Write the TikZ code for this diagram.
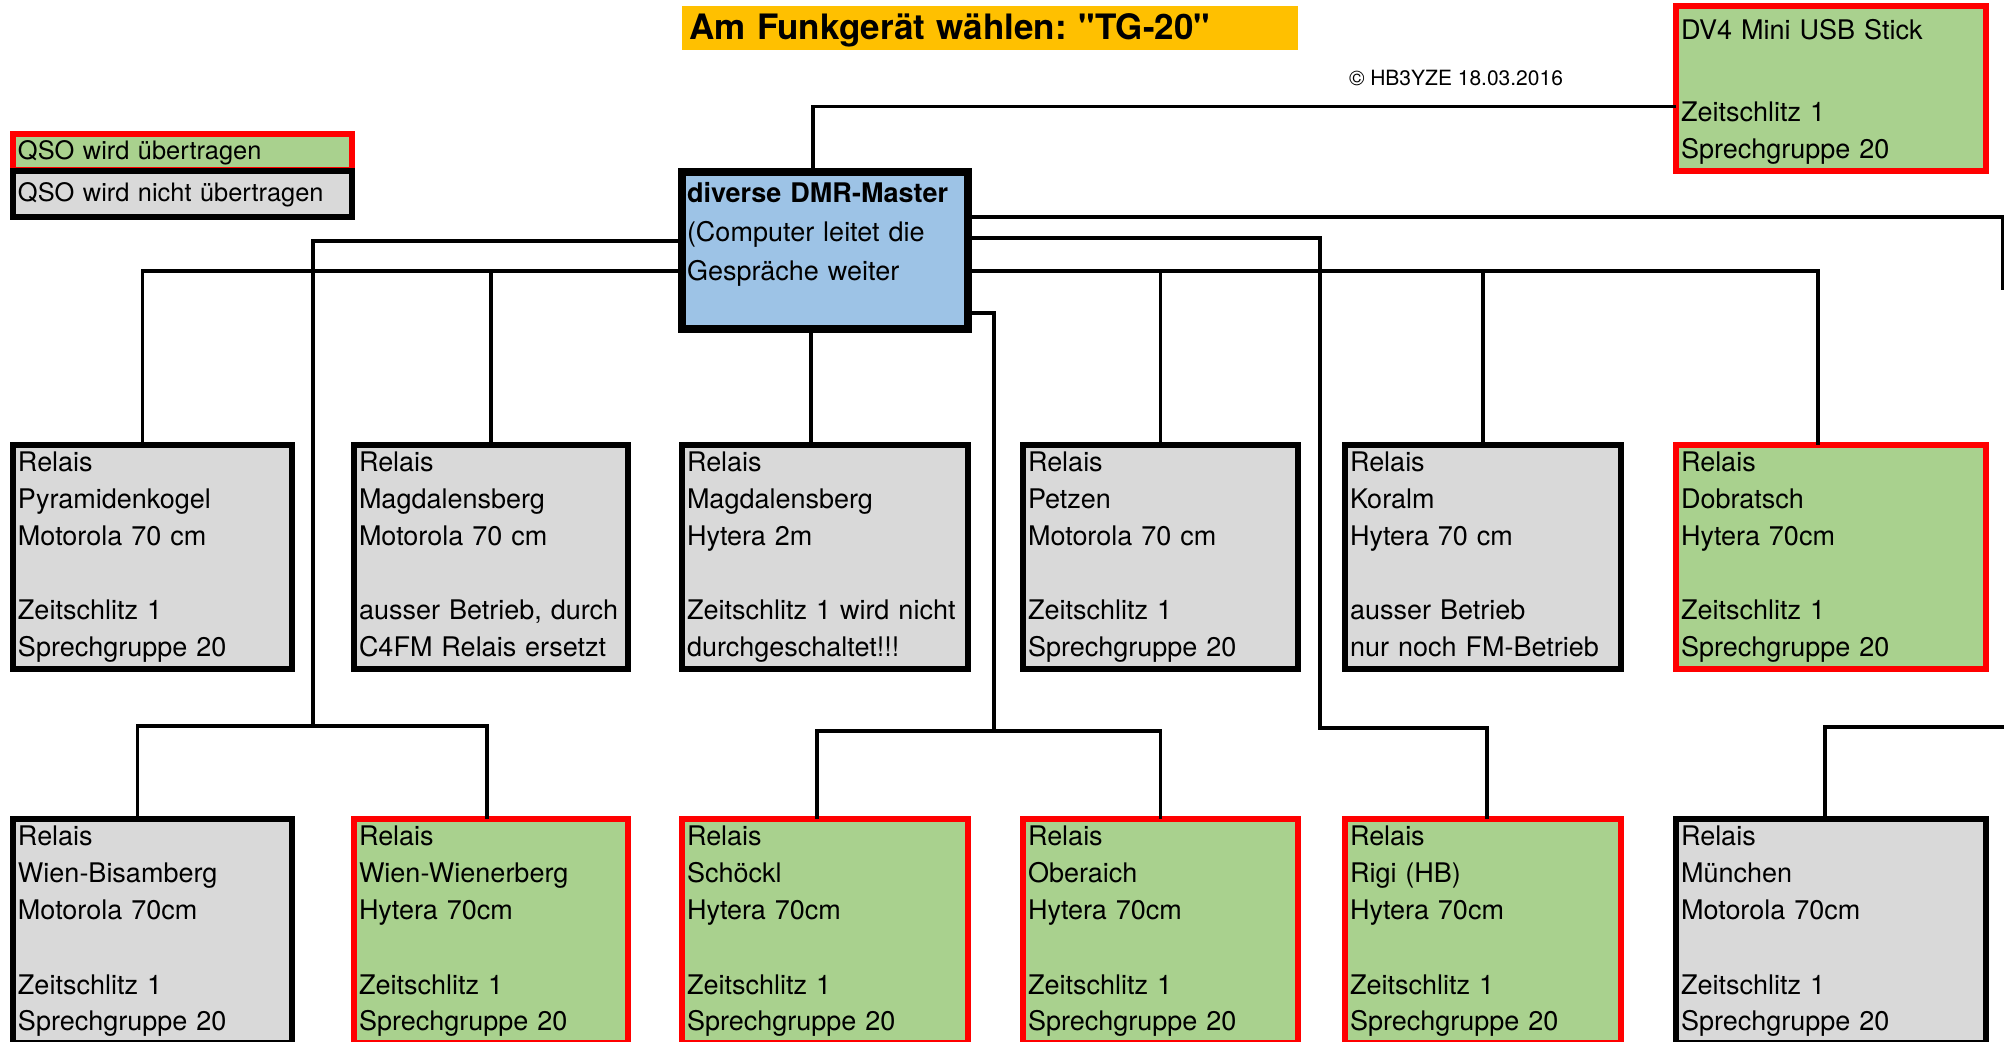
\documentclass[tikz,border=0pt]{standalone}
\usepackage{fontspec}
\setmainfont{TeX Gyre Heros}
\usepackage{tikz}
\frenchspacing
\definecolor{QSOGreen}{HTML}{A9D18E}
\definecolor{QSOGray}{HTML}{D9D9D9}
\definecolor{MasterBlue}{HTML}{9DC3E6}
\definecolor{TitleOrange}{HTML}{FFC000}

\begin{document}
\begin{tikzpicture}[x=0.5pt, y=-0.5pt,
    every node/.style={anchor=north west, outer sep=0pt, align=left,
                       font=\fontsize{13.5}{18.5}\selectfont},
    relais/.style={draw, line width=3pt, inner xsep=2.5pt, inner ysep=0pt,
                   text height=13.5pt, text depth=98.5pt},
    aktiv/.style={relais, draw=red, fill=QSOGreen},
    inaktiv/.style={relais, draw=black, fill=QSOGray},
    verbindung/.style={line width=1.8pt}]
  \useasboundingbox (0,0) rectangle (2004,1042);

  % Titel, Legende, Copyright
  \node[fill=TitleOrange, inner xsep=3.5pt, inner ysep=0pt, text width=301pt,
        text height=17pt, text depth=5pt, font=\fontsize{17.5}{20}\selectfont\bfseries]
        (titel) at (682,6) {Am Funkgerät wählen: \textquotedbl TG-20\textquotedbl};
  \node[anchor=base west, inner sep=0pt, font=\fontsize{10.5}{12}\selectfont]
        (copy) at (1349,86) {© HB3YZE 18.03.2016};
  \node[draw=red, fill=QSOGreen, line width=3pt, inner xsep=2.5pt, inner ysep=0pt,
        text width=164.5pt, text height=13pt, text depth=5pt, font=\fontsize{12.7}{16}\selectfont]
        (qsoja) at (13,134) {QSO wird übertragen};
  \node[draw=black, fill=QSOGray, line width=3pt, inner xsep=2.5pt, inner ysep=0pt,
        text width=164.5pt, text height=15.5pt, text depth=7.5pt, font=\fontsize{12.7}{16}\selectfont]
        (qsonein) at (13,171) {QSO wird nicht übertragen};

  % Master und USB Stick
  \node[draw, line width=4pt, fill=MasterBlue, inner xsep=2.5pt, inner ysep=0pt,
        text width=138pt, text height=15.5pt, text depth=63pt,
        font=\fontsize{13.5}{19.5}\selectfont]
        (master) at (682,172) {\textbf{diverse DMR-Master}\\(Computer leitet die\\Gespräche weiter};
  \node[aktiv, text width=150pt, text height=17pt, text depth=65.5pt]
        (dvstick) at (1676,6) {DV4 Mini USB Stick\\[22.5pt]Zeitschlitz 1\\Sprechgruppe 20};

  % obere Reihe
  \node[inaktiv, text width=134.5pt] (pyramid) at (13,445)
        {Relais\\Pyramidenkogel\\Motorola 70 cm\\[18.5pt]Zeitschlitz 1\\Sprechgruppe 20};
  \node[inaktiv, text width=132pt] (magdamoto) at (354,445)
        {Relais\\Magdalensberg\\Motorola 70 cm\\[18.5pt]ausser Betrieb, durch\\C4FM Relais ersetzt};
  \node[inaktiv, text width=138pt] (magdahyt) at (682,445)
        {Relais\\Magdalensberg\\Hytera 2m\\[18.5pt]Zeitschlitz 1 wird nicht\\durchgeschaltet!!!};
  \node[inaktiv, text width=132.5pt] (petzen) at (1023,445)
        {Relais\\Petzen\\Motorola 70 cm\\[18.5pt]Zeitschlitz 1\\Sprechgruppe 20};
  \node[inaktiv, text width=133pt] (koralm) at (1345,445)
        {Relais\\Koralm\\Hytera 70 cm\\[18.5pt]ausser Betrieb\\nur noch FM-Betrieb};
  \node[aktiv, text width=150pt] (dobratsch) at (1676,445)
        {Relais\\Dobratsch\\Hytera 70cm\\[18.5pt]Zeitschlitz 1\\Sprechgruppe 20};

  % untere Reihe
  \node[inaktiv, text width=134.5pt] (bisamberg) at (13,819)
        {Relais\\Wien-Bisamberg\\Motorola 70cm\\[18.5pt]Zeitschlitz 1\\Sprechgruppe 20};
  \node[aktiv, text width=132pt] (wienerberg) at (354,819)
        {Relais\\Wien-Wienerberg\\Hytera 70cm\\[18.5pt]Zeitschlitz 1\\Sprechgruppe 20};
  \node[aktiv, text width=138pt] (schoeckl) at (682,819)
        {Relais\\Schöckl\\Hytera 70cm\\[18.5pt]Zeitschlitz 1\\Sprechgruppe 20};
  \node[aktiv, text width=132.5pt] (oberaich) at (1023,819)
        {Relais\\Oberaich\\Hytera 70cm\\[18.5pt]Zeitschlitz 1\\Sprechgruppe 20};
  \node[aktiv, text width=133pt] (rigi) at (1345,819)
        {Relais\\Rigi (HB)\\Hytera 70cm\\[18.5pt]Zeitschlitz 1\\Sprechgruppe 20};
  \node[inaktiv, text width=150pt] (muenchen) at (1676,819)
        {Relais\\München\\Motorola 70cm\\[18.5pt]Zeitschlitz 1\\Sprechgruppe 20};

  % Knickpunkte
  \coordinate (wienknick) at (313,726);
  \coordinate (grazknick) at (994,731);
  \coordinate (rigiknick) at (1320,728);
  \coordinate (rechtsoben) at (2003,290);
  \coordinate (rechtsunten) at (2010,727);

  % Verbindungen
  \draw[verbindung] ([xshift=-6pt]master.north) |- ([yshift=-9pt]dvstick.west);
  \draw[verbindung] (master.west |- 0,241) -| (wienknick) -| ([xshift=-7.5pt]bisamberg.north);
  \draw[verbindung] (wienknick) -| ([xshift=-2pt]wienerberg.north);
  \draw[verbindung] (master.west |- 0,271) -| ([xshift=-5pt]pyramid.north);
  \draw[verbindung] (magdamoto.north |- 0,271) -- (magdamoto.north);
  \draw[verbindung] ([xshift=-7pt]master.south) -- ([xshift=-7pt]magdahyt.north);
  \draw[verbindung] (master.east |- 0,217) -| (rechtsoben);
  \draw[verbindung] (master.east |- 0,238) -| (rigiknick) -| ([xshift=2pt]rigi.north);
  \draw[verbindung] (master.east |- 0,271) -| ([xshift=-6.5pt]dobratsch.north);
  \draw[verbindung] (petzen.north |- 0,271) -- (petzen.north);
  \draw[verbindung] (koralm.north |- 0,271) -- (koralm.north);
  \draw[verbindung] (master.east |- 0,313) -| (grazknick) -| ([xshift=-4pt]schoeckl.north);
  \draw[verbindung] (grazknick) -| (oberaich.north);
  \draw[verbindung] (rechtsunten) -| ([xshift=-3pt]muenchen.north);
\end{tikzpicture}
\end{document}
